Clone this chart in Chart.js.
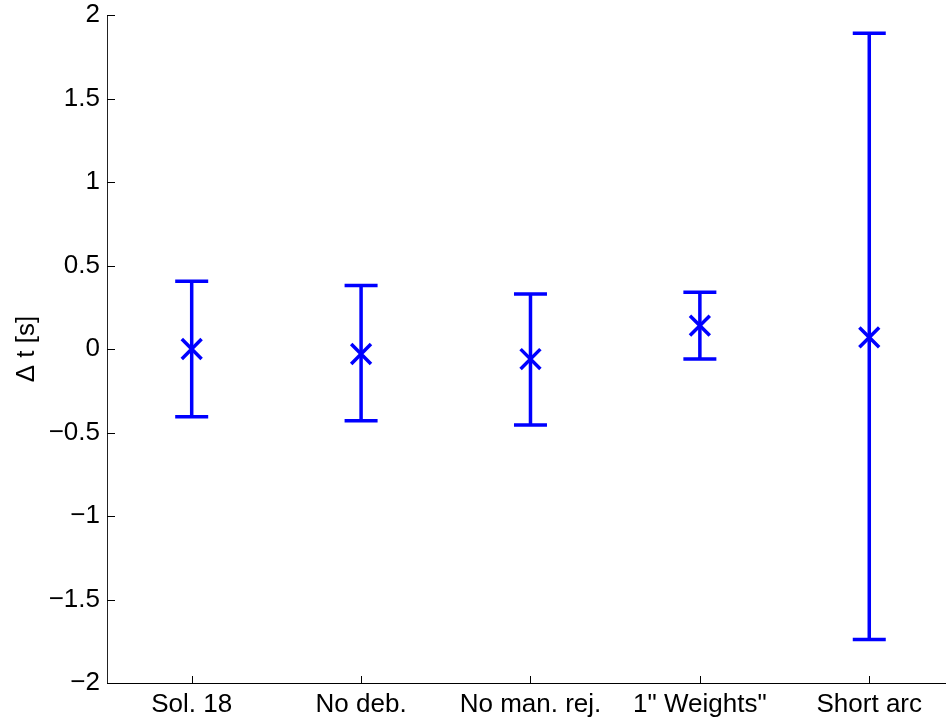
<!DOCTYPE html>
<html>
<head>
<meta charset="utf-8">
<script src="https://cdn.jsdelivr.net/npm/chart.js@4"></script>
<style>
  html, body { margin: 0; padding: 0; background: #fff; }
  canvas { display: block; }
</style>
</head>
<body>
<canvas id="c" width="946" height="725"></canvas>
<script>
// Solution variants and their clock offset estimates with error limits
const categories = ['Sol. 18', 'No deb.', 'No man. rej.', '1" Weights"', 'Short arc'];
const centers = [0.0, -0.03, -0.06, 0.14, 0.07];
const lowerBounds = [-0.405, -0.43, -0.455, -0.06, -1.74];
const upperBounds = [0.405, 0.38, 0.33, 0.34, 1.89];
const yTicks = [-2, -1.5, -1, -0.5, 0, 0.5, 1, 1.5, 2];

const FONT = { family: '"Liberation Sans", Arial, Helvetica, sans-serif', size: 26 };
const BLUE = '#0000ff';
const CAP_HALF = 16.5;

// Vertical error bars with end caps, positioned through the chart scales
const errorBars = {
  id: 'errorBars',
  beforeDatasetsDraw(chart) {
    const { ctx, scales: { x, y } } = chart;
    ctx.save();
    ctx.strokeStyle = BLUE;
    ctx.lineWidth = 3.5;
    ctx.lineCap = 'butt';
    categories.forEach((_, i) => {
      const px = x.getPixelForValue(i + 1);
      const top = y.getPixelForValue(upperBounds[i]);
      const bot = y.getPixelForValue(lowerBounds[i]);
      ctx.beginPath();
      ctx.moveTo(px, top); ctx.lineTo(px, bot);
      ctx.moveTo(px - CAP_HALF, top); ctx.lineTo(px + CAP_HALF, top);
      ctx.moveTo(px - CAP_HALF, bot); ctx.lineTo(px + CAP_HALF, bot);
      ctx.stroke();
    });
    ctx.restore();
  }
};

// Tick marks pointing into the plot area
const innerTicks = {
  id: 'innerTicks',
  afterDraw(chart) {
    const { ctx, chartArea, scales: { x, y } } = chart;
    ctx.save();
    ctx.strokeStyle = '#000';
    ctx.lineWidth = 1;
    ctx.beginPath();
    y.ticks.forEach(t => {
      const py = Math.round(y.getPixelForValue(t.value)) + 0.5;
      ctx.moveTo(chartArea.left, py);
      ctx.lineTo(chartArea.left + 8, py);
    });
    x.ticks.forEach(t => {
      const px = Math.round(x.getPixelForValue(t.value)) + 0.5;
      ctx.moveTo(px, chartArea.bottom);
      ctx.lineTo(px, chartArea.bottom - 7);
    });
    ctx.stroke();
    ctx.restore();
  }
};

new Chart(document.getElementById('c'), {
  type: 'scatter',
  data: {
    datasets: [{
      data: categories.map((_, i) => ({ x: i + 1, y: centers[i] })),
      pointStyle: 'crossRot',
      pointRadius: 14,
      pointHoverRadius: 14,
      pointBorderWidth: 3.5,
      borderColor: BLUE,
      backgroundColor: BLUE,
      clip: false
    }]
  },
  options: {
    responsive: false,
    animation: false,
    layout: { padding: { top: 15, left: 0, right: 0, bottom: 0 }, autoPadding: false },
    plugins: { legend: { display: false }, tooltip: { enabled: false } },
    scales: {
      x: {
        type: 'linear',
        min: 0.5,
        max: 5.453,
        grid: { display: false, drawTicks: false },
        border: { display: true, color: '#000', width: 1 },
        afterBuildTicks: s => { s.ticks = categories.map((_, i) => ({ value: i + 1 })); },
        afterFit: s => { s.height = 42; s.paddingLeft = 0; s.paddingRight = 0; },
        ticks: {
          font: FONT,
          color: '#000',
          padding: 6,
          maxRotation: 0,
          autoSkip: false,
          callback: v => categories[Math.round(v) - 1] ?? ''
        }
      },
      y: {
        type: 'linear',
        min: -2,
        max: 2,
        grid: { display: false, drawTicks: false },
        border: { display: true, color: '#222', width: 1 },
        afterBuildTicks: s => { s.ticks = yTicks.map(v => ({ value: v })); },
        afterFit: s => { s.width = 107; s.paddingTop = 0; s.paddingBottom = 0; },
        ticks: {
          font: FONT,
          color: '#000',
          padding: 7,
          callback: v => (v < 0 ? '\u2212' + Math.abs(v) : String(v))
        },
        title: {
          display: true,
          text: '\u0394 t [s]',
          font: FONT,
          color: '#000',
          padding: { top: 11, bottom: 0 }
        }
      }
    }
  },
  plugins: [errorBars, innerTicks]
});
</script>
</body>
</html>
